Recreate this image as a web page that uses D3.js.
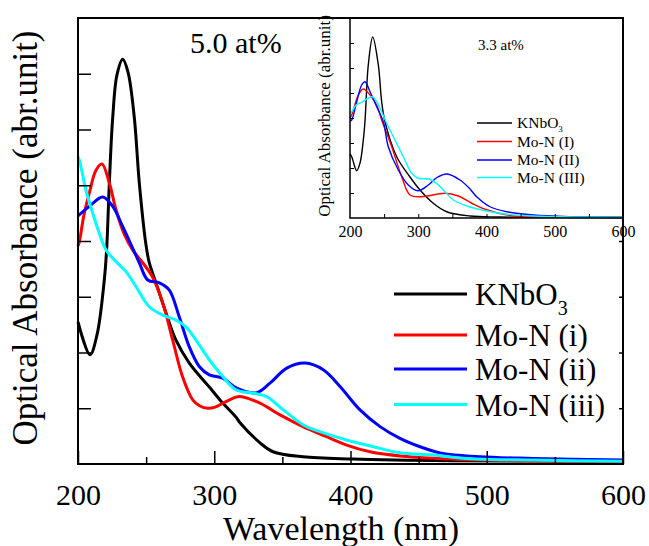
<!DOCTYPE html>
<html>
<head>
<meta charset="utf-8">
<script src="https://cdn.jsdelivr.net/npm/d3@7"></script>
<style>
  body { margin: 0; background: #fff; }
  svg { display: block; }
</style>
</head>
<body>
<svg id="chart" width="649" height="546"></svg>
<script>
// ---- Main panel spectra (5.0 at%): [wavelength nm, absorbance a.u.] ----
const mainKNbO3 = [
  [200, 2.55], [208.8, 1.96], [213.9, 2.31], [219.3, 3.30], [221.1, 3.89], [223, 5.04],
  [225.5, 6.22], [228.6, 6.98], [232.8, 7.26], [236.7, 7.03], [241.3, 6.22], [245, 5.04],
  [249.9, 3.93], [252.3, 3.61], [257.2, 3.25], [264.6, 2.71], [271.9, 2.22], [281.7, 1.81],
  [296.4, 1.38], [304.2, 1.15], [316, 0.84], [318.9, 0.74], [333.6, 0.38], [343.1, 0.22],
  [365.1, 0.13], [401.8, 0.09], [473, 0.06], [600, 0.05]
];
const mainMoN_i = [
  [200, 3.91], [201, 3.99], [204.4, 4.47], [208.3, 4.86], [213.2, 5.27], [217.6, 5.38],
  [223, 5.04], [227.9, 4.56], [233.8, 4.13], [240.1, 3.84], [247.5, 3.61], [254.8, 3.35],
  [262.2, 2.89], [269.5, 2.22], [276.8, 1.56], [284.2, 1.15], [289.5, 1.04], [295.2, 1.00],
  [300.6, 1.02], [306.2, 1.09], [316, 1.20], [318.9, 1.21], [333.6, 1.09], [348.3, 0.88],
  [365.1, 0.67], [382.5, 0.49], [397.2, 0.34], [414.3, 0.22], [438.5, 0.14], [473, 0.09],
  [524.4, 0.06], [600, 0.05]
];
const mainMoN_ii = [
  [200, 4.45], [208.3, 4.62], [218.1, 4.79], [225.5, 4.62], [232.8, 4.26], [240.1, 3.87],
  [245, 3.61], [251.2, 3.30], [259.7, 3.25], [267, 3.12], [274.3, 2.64], [281.7, 2.10],
  [289, 1.75], [296.4, 1.60], [306.2, 1.54], [316.5, 1.36], [331.2, 1.28], [340.9, 1.45],
  [353.2, 1.72], [366.6, 1.81], [380, 1.69], [392.3, 1.39], [407, 0.97], [421.7, 0.67],
  [436.3, 0.46], [451, 0.31], [465.7, 0.20], [495, 0.13], [534, 0.10], [600, 0.07]
];
const mainMoN_iii = [
  [200, 5.51], [201, 5.45], [205.9, 4.91], [210.8, 4.50], [215.6, 4.14], [220.6, 3.84],
  [227.9, 3.63], [235.2, 3.45], [242.6, 3.18], [252.3, 2.82], [262.2, 2.67], [271.9, 2.58],
  [279.3, 2.46], [286.6, 2.22], [296.4, 1.87], [306.2, 1.57], [316, 1.33], [328.7, 1.27],
  [338.5, 1.21], [350.7, 0.97], [365.4, 0.70], [377.6, 0.58], [397.2, 0.43], [416.7, 0.31],
  [436.3, 0.20], [460.6, 0.16], [485.3, 0.10], [534, 0.07], [600, 0.05]
];

// ---- Inset spectra (3.3 at%) ----
const insetKNbO3 = [
  [200, 2.56], [202.5, 2.45], [209.8, 1.89], [214.7, 2.2], [219.5, 3.12], [222, 3.88],
  [226.8, 6.12], [233.3, 7.24], [241.5, 6.12], [246.4, 4.65], [251.3, 3.85], [268.4, 2.45],
  [287.9, 1.64], [302.6, 1.12], [322, 0.59], [341.7, 0.25], [375.8, 0.08], [419.8, 0.04],
  [600, 0.03]
];
const insetMoN_I = [
  [200, 4.0], [202.5, 4.12], [212.2, 4.92], [219.5, 5.16], [229.3, 4.92], [239.1, 4.52],
  [246.4, 3.92], [261.1, 2.85], [275.8, 1.65], [287.9, 0.92], [305.1, 0.85], [339.2, 0.99],
  [358.7, 0.88], [378.3, 0.59], [397.8, 0.35], [438.8, 0.08], [507.7, 0.03], [600, 0.02]
];
const insetMoN_II = [
  [200, 3.88], [202.5, 3.92], [209.8, 4.65], [217.1, 5.32], [222, 5.45], [229.3, 5.05],
  [239.1, 4.45], [248.8, 3.85], [256.1, 2.85], [270.8, 1.92], [285.4, 1.32], [299.6, 1.09],
  [314.7, 1.32], [327.5, 1.62], [342.1, 1.76], [361.2, 1.52], [375.8, 1.16], [385.6, 0.85],
  [405.1, 0.45], [429.6, 0.25], [468.6, 0.12], [527.2, 0.05], [600, 0.02]
];
const insetMoN_III = [
  [200, 4.2], [202.5, 4.25], [208.8, 4.52], [217.1, 4.63], [226.8, 4.79], [233, 4.85],
  [239.1, 4.65], [246.4, 4.25], [253.8, 3.79], [265.9, 3.12], [278.1, 2.45], [290.4, 1.79],
  [300.1, 1.59], [317.2, 1.55], [329.4, 1.32], [339.2, 1.05], [351.4, 0.72], [375.8, 0.44],
  [400.3, 0.28], [429.6, 0.15], [478.4, 0.07], [600, 0.03]
];

// ---- Labels, ticks, colours ----
const colors = ["#000000", "#ff0000", "#0000ff", "#00ffff"];
const mainLegend = [["KNbO", "3"], ["Mo-N (i)", ""], ["Mo-N (ii)", ""], ["Mo-N (iii)", ""]];
const insetLegend = [["KNbO", "3"], ["Mo-N (I)", ""], ["Mo-N (II)", ""], ["Mo-N (III)", ""]];
const xMajorTicks = [200, 300, 400, 500, 600];
const xMinorTicks = [250, 350, 450, 550];
const yTicks = [1, 2, 3, 4, 5, 6, 7];
const insetXTicks = [250, 300, 350, 400, 450, 500, 550];

const FONT = "'Liberation Serif', 'Times New Roman', Times, serif";
const svg = d3.select("#chart").style("font-family", FONT);

// ================= main panel =================
const M = { left: 78, right: 623, top: 18, bottom: 464 };
const x = d3.scaleLinear().domain([200, 600]).range([M.left, M.right]);
const y = d3.scaleLinear().domain([0, 8]).range([M.bottom, M.top]);

const line = d3.line()
  .x(d => x(d[0])).y(d => y(d[1]))
  .curve(d3.curveCatmullRom.alpha(0.5));

const mainSeries = [mainKNbO3, mainMoN_i, mainMoN_ii, mainMoN_iii];
svg.append("g").selectAll("path").data(mainSeries).join("path")
  .attr("d", line)
  .attr("fill", "none")
  .attr("stroke", (d, i) => colors[i])
  .attr("stroke-width", 3)
  .attr("stroke-linejoin", "round");

function styleAxis(g) {
  g.select(".domain").remove();
  g.selectAll(".tick line").attr("stroke", "#000").attr("stroke-width", 1.5);
  g.selectAll("text").attr("fill", "#000");
}

// bottom: major ticks with labels, minor ticks without
svg.append("g").attr("transform", `translate(0,${M.bottom})`)
  .call(d3.axisBottom(x).tickValues(xMajorTicks).tickSize(-13).tickPadding(20).tickFormat(d3.format("d")))
  .call(styleAxis)
  .call(g => g.selectAll("text").attr("font-size", 30));
svg.append("g").attr("transform", `translate(0,${M.bottom})`)
  .call(d3.axisBottom(x).tickValues(xMinorTicks).tickSize(-7).tickFormat(""))
  .call(styleAxis);

// left and right ticks, no labels
svg.append("g").attr("transform", `translate(${M.left},0)`)
  .call(d3.axisLeft(y).tickValues(yTicks).tickSize(-13).tickFormat(""))
  .call(styleAxis);
svg.append("g").attr("transform", `translate(${M.right},0)`)
  .call(d3.axisRight(y).tickValues(yTicks).tickSize(-4).tickFormat(""))
  .call(styleAxis);

// frame
svg.append("rect")
  .attr("x", M.left).attr("y", M.top)
  .attr("width", M.right - M.left).attr("height", M.bottom - M.top)
  .attr("fill", "none").attr("stroke", "#000").attr("stroke-width", 2);

// axis titles
svg.append("text")
  .attr("x", 341).attr("y", 540)
  .attr("text-anchor", "middle").attr("font-size", 34)
  .text("Wavelength (nm)");
svg.append("text")
  .attr("transform", "translate(37,238) rotate(-90)")
  .attr("text-anchor", "middle").attr("font-size", 35)
  .text("Optical Absorbance (abr.unit)");

svg.append("text")
  .attr("x", 190).attr("y", 53).attr("font-size", 30)
  .text("5.0 at%");

// legend
const legendBaselines = [305, 346, 380, 415.5];
const lg = svg.append("g");
mainLegend.forEach((lab, i) => {
  const by = legendBaselines[i];
  lg.append("line")
    .attr("x1", 394).attr("x2", 467)
    .attr("y1", by - 11).attr("y2", by - 11)
    .attr("stroke", colors[i]).attr("stroke-width", 3);
  const t = lg.append("text").attr("x", 475).attr("y", by).attr("font-size", 31);
  t.append("tspan").text(lab[0]);
  if (lab[1]) t.append("tspan").attr("font-size", 20).attr("dy", 10).text(lab[1]);
});

// ================= inset panel =================
const I = { left: 350, right: 623, top: 18, bottom: 218 };
const xi = d3.scaleLinear().domain([200, 600]).range([I.left, I.right]);
const yi = d3.scaleLinear().domain([0, 8]).range([I.bottom, I.top]);

const inset = svg.append("g");
inset.append("rect")
  .attr("x", I.left).attr("y", I.top)
  .attr("width", I.right - I.left).attr("height", I.bottom - I.top)
  .attr("fill", "#fff");

const lineI = d3.line()
  .x(d => xi(d[0])).y(d => yi(d[1]))
  .curve(d3.curveCatmullRom.alpha(0.5));

const insetSeries = [insetKNbO3, insetMoN_I, insetMoN_II, insetMoN_III];
inset.append("g").selectAll("path").data(insetSeries).join("path")
  .attr("d", lineI)
  .attr("fill", "none")
  .attr("stroke", (d, i) => colors[i])
  .attr("stroke-width", 1.4);

inset.append("g").attr("transform", `translate(0,${I.bottom})`)
  .call(d3.axisBottom(xi).tickValues(insetXTicks).tickSize(-4).tickFormat(""))
  .call(styleAxis)
  .call(g => g.selectAll(".tick line").attr("stroke-width", 1));
inset.append("g").attr("transform", `translate(0,${I.bottom})`)
  .call(d3.axisBottom(xi).tickValues(xMajorTicks).tickSize(0).tickPadding(8).tickFormat(d3.format("d")))
  .call(styleAxis)
  .call(g => g.selectAll("text").attr("font-size", 16));
inset.append("g").attr("transform", `translate(${I.left},0)`)
  .call(d3.axisLeft(yi).tickValues(yTicks).tickSize(-4).tickFormat(""))
  .call(styleAxis)
  .call(g => g.selectAll(".tick line").attr("stroke-width", 1));

inset.append("rect")
  .attr("x", I.left).attr("y", I.top)
  .attr("width", I.right - I.left).attr("height", I.bottom - I.top)
  .attr("fill", "none").attr("stroke", "#000").attr("stroke-width", 1.5);

inset.append("text")
  .attr("transform", "translate(330,116) rotate(-90)")
  .attr("text-anchor", "middle").attr("font-size", 17)
  .text("Optical Absorbance (abr.unit)");

inset.append("text")
  .attr("x", 478).attr("y", 50).attr("font-size", 15)
  .text("3.3 at%");

const insetBaselines = [128, 146.5, 165, 182.5];
insetLegend.forEach((lab, i) => {
  const by = insetBaselines[i];
  inset.append("line")
    .attr("x1", 477).attr("x2", 512)
    .attr("y1", by - 5).attr("y2", by - 5)
    .attr("stroke", colors[i]).attr("stroke-width", 1.4);
  const t = inset.append("text").attr("x", 517).attr("y", by).attr("font-size", 15.5);
  t.append("tspan").text(lab[0]);
  if (lab[1]) t.append("tspan").attr("font-size", 9).attr("dy", 3.5).text(lab[1]);
});

// redraw the shared top/right edges of the main frame above the inset
svg.append("path")
  .attr("d", `M${M.left},${M.top}H${M.right}V${M.bottom}`)
  .attr("fill", "none").attr("stroke", "#000").attr("stroke-width", 2);

// every label uses the serif face
svg.selectAll("text").style("font-family", FONT);
</script>
</body>
</html>
